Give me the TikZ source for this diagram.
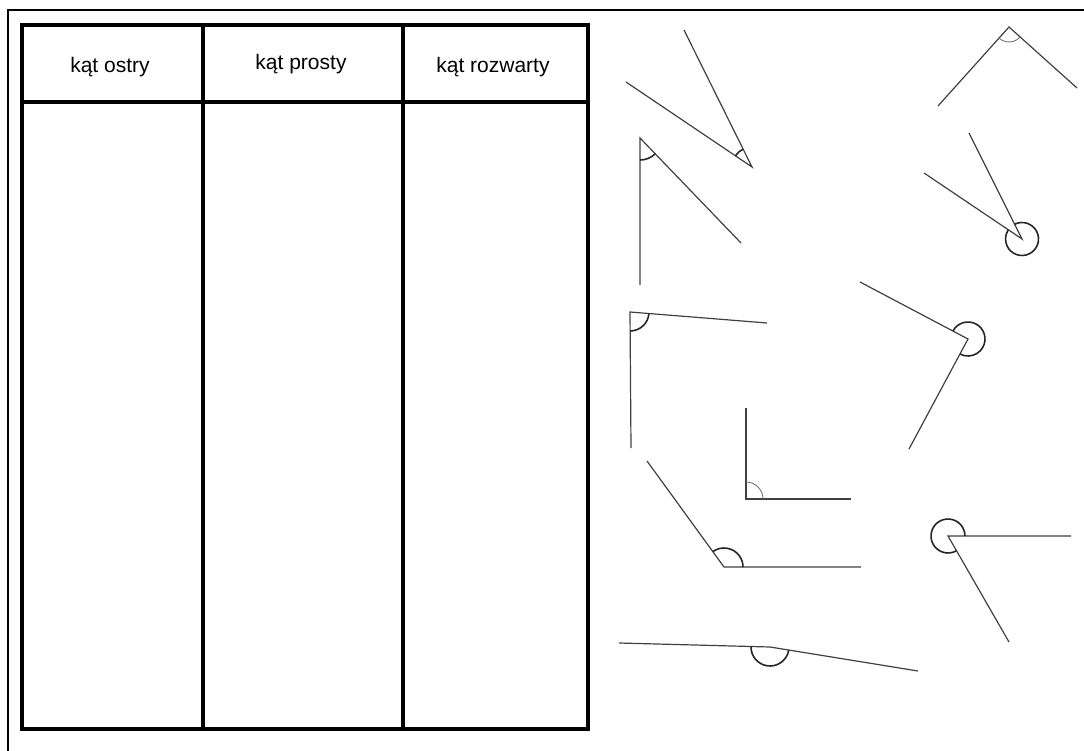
\documentclass[tikz,border=0pt]{standalone}
\usepackage{fontspec}
\setmainfont{Liberation Sans}
\usetikzlibrary{calc}

\begin{document}
\begin{tikzpicture}[x=1pt,y=-1pt,
  tableline/.style={line width=3.6pt,black},
  arm/.style={line width=1.2pt,black!75},
  anglemark/.style={line width=1.6pt,black!85},
  thinmark/.style={line width=0.9pt,black!55},
  head/.style={anchor=base,font=\fontsize{21}{25}\selectfont}]
\useasboundingbox (0,0) rectangle (1084,751);
\draw[line width=2.6pt] (8,751) -- (8,10) -- (1084,10);

\draw[tableline] (20,25) -- (590,25);
\draw[tableline] (20,102) -- (590,102);
\draw[tableline] (20,729) -- (590,729);
\draw[tableline] (22,25) -- (22,729);
\draw[tableline] (203,25) -- (203,729);
\draw[tableline] (403,25) -- (403,729);
\draw[tableline] (588,25) -- (588,729);
\node[head] (ostry) at (110,73) {kąt ostry};
\node[head] (prosty) at (301,70) {kąt prosty};
\node[head] (rozwarty) at (493,73) {kąt rozwarty};

\coordinate (A) at (752,167);
\coordinate (A1) at (684,30);
\coordinate (A2) at (626,82);
\draw[arm] (A1) -- (A) -- (A2);
\draw[anglemark] ($(A)+(214:20)$) arc[start angle=214, end angle=243.6, radius=20];

\coordinate (B) at (1009,27);
\coordinate (B1) at (938,106);
\coordinate (B2) at (1077,88);
\draw[arm] (B1) -- (B) -- (B2);
\draw[thinmark] ($(B)+(41.9:15)$) arc[start angle=41.9, end angle=132, radius=15];

\coordinate (C) at (640,138);
\coordinate (C1) at (640,285);
\coordinate (C2) at (741,243);
\draw[arm] (C1) -- (C) -- (C2);
\draw[anglemark] ($(C)+(46.1:22)$) arc[start angle=46.1, end angle=90, radius=22];

\coordinate (D) at (1022,239);
\coordinate (D1) at (924,173);
\coordinate (D2) at (969,133);
\draw[arm] (D1) -- (D) -- (D2);
\draw[anglemark] ($(D)+(243.4:16.5)$) arc[start angle=243.4, end angle=574, radius=16.5];

\coordinate (E) at (630,312);
\coordinate (E1) at (631,448);
\coordinate (E2) at (767,323);
\draw[arm] (E1) -- (E) -- (E2);
\draw[anglemark] ($(E)+(4.6:19)$) arc[start angle=4.6, end angle=89.6, radius=19];

\coordinate (F) at (968,339);
\coordinate (F1) at (860,282);
\coordinate (F2) at (909,449);
\draw[arm] (F1) -- (F) -- (F2);
\draw[anglemark] ($(F)+(207.8:17)$) arc[start angle=207.8, end angle=478.2, radius=17];

\coordinate (G) at (746,499);
\coordinate (G1) at (746,408);
\coordinate (G2) at (851,499);
\draw[arm] (G1) -- (G) -- (G2);
\draw[thinmark] ($(G)+(270:17)$) arc[start angle=270, end angle=360, radius=17];

\coordinate (H) at (724,567);
\coordinate (H1) at (647,461);
\coordinate (H2) at (861,567);
\draw[arm] (H1) -- (H) -- (H2);
\draw[anglemark] ($(H)+(234:19)$) arc[start angle=234, end angle=360, radius=19];

\coordinate (I) at (948,536);
\coordinate (I1) at (1071,536);
\coordinate (I2) at (1009,642);
\draw[arm] (I1) -- (I) -- (I2);
\draw[anglemark] ($(I)+(60.1:17)$) arc[start angle=60.1, end angle=360, radius=17];

\coordinate (J) at (770,647);
\coordinate (J1) at (619,643);
\coordinate (J2) at (918,671);
\draw[arm] (J1) -- (J) -- (J2);
\draw[anglemark] ($(J)+(9.2:19)$) arc[start angle=9.2, end angle=181.5, radius=19];
\end{tikzpicture}
\end{document}
